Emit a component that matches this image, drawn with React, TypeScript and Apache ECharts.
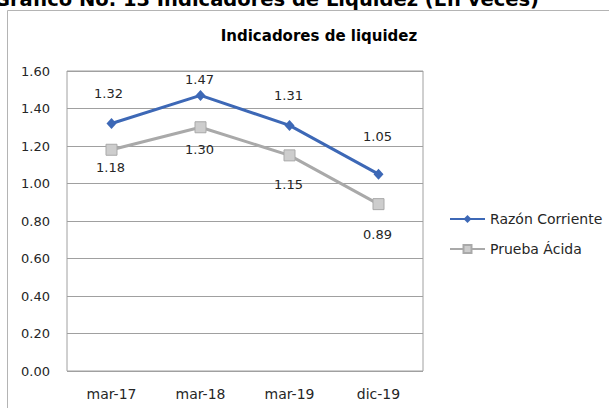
import React, { useEffect, useRef } from "react";
import * as echarts from "echarts";

const categories = ["mar-17", "mar-18", "mar-19", "dic-19"];
const razonCorriente = [1.32, 1.47, 1.31, 1.05];
const pruebaAcida = [1.18, 1.3, 1.15, 0.89];
const yTicks = { min: 0, max: 1.6, interval: 0.2 };

const razonLabelOffsets = [[-3, -30], [-1, -16], [-1, -30], [-1, -38]];
const pruebaLabelOffsets = [[-1, 18], [-1, 22], [-1, 29], [-1, 30]];

const BLUE = "#3d68b6";
const GRAY = "#a9a9a9";
const TEXT = "#262626";
const FONT = "DejaVu Sans";

function buildData(values: number[], offsets: number[][]) {
  return values.map((v, i) => ({
    value: v,
    label: { position: "inside", offset: offsets[i] },
  }));
}

export default function App() {
  const ref = useRef<HTMLDivElement>(null);
  useEffect(() => {
    document.body.style.margin = "0";
    if (!ref.current) return;
    const chart = echarts.init(ref.current, undefined, { renderer: "svg" });
    chart.setOption({
      animation: false,
      backgroundColor: "#ffffff",
      graphic: [
        {
          type: "rect",
          shape: { x: 7.5, y: 10.5, width: 800, height: 600 },
          style: { fill: "none", stroke: "#b4b4b4", lineWidth: 1 },
          silent: true,
        },
        {
          type: "text",
          x: -6,
          y: 9,
          style: {
            text: "Gráfico No. 13 Indicadores de Liquidez (En veces)",
            font: "bold 19.5px 'DejaVu Sans'",
            fill: "#000000",
            textVerticalAlign: "bottom",
          },
        },
      ],
      title: {
        text: "Indicadores de liquidez",
        left: 314,
        top: 23,
        textAlign: "center",
        textStyle: { fontFamily: FONT, fontWeight: "bold", fontSize: 15, color: "#000" },
      },
      legend: {
        orient: "vertical",
        left: 444,
        top: 207,
        itemWidth: 35,
        itemHeight: 10,
        itemGap: 16,
        textStyle: { fontFamily: FONT, fontSize: 14, color: TEXT, lineHeight: 14 },
        data: ["Razón Corriente", "Prueba Ácida"],
      },
      grid: {
        left: 67,
        right: 186,
        top: 71,
        bottom: 37,
        show: true,
        borderColor: "#a0a0a0",
        borderWidth: 1,
        containLabel: false,
      },
      xAxis: {
        type: "category",
        data: categories,
        boundaryGap: true,
        axisLine: { show: false },
        axisTick: { show: false },
        axisLabel: { fontFamily: FONT, fontSize: 14, color: TEXT, margin: 16 },
      },
      yAxis: {
        type: "value",
        min: yTicks.min,
        max: yTicks.max,
        interval: yTicks.interval,
        axisLine: { show: false },
        axisTick: { show: false },
        splitLine: { lineStyle: { color: "#a0a0a0", width: 1 } },
        axisLabel: {
          fontFamily: FONT,
          fontSize: 13,
          color: TEXT,
          margin: 17,
          formatter: (v: number) => v.toFixed(2),
        },
      },
      series: [
        {
          name: "Razón Corriente",
          type: "line",
          data: buildData(razonCorriente, razonLabelOffsets),
          symbol: "diamond",
          symbolSize: [10, 11],
          lineStyle: { color: BLUE, width: 3 },
          itemStyle: { color: BLUE },
          label: {
            show: true,
            fontFamily: FONT,
            fontSize: 13,
            color: TEXT,
            formatter: (p: any) => Number(p.value).toFixed(2),
          },
          z: 3,
        },
        {
          name: "Prueba Ácida",
          type: "line",
          data: buildData(pruebaAcida, pruebaLabelOffsets),
          symbol: "rect",
          symbolSize: 11,
          lineStyle: { color: GRAY, width: 3 },
          itemStyle: { color: "#cdcdcd", borderColor: GRAY, borderWidth: 1 },
          label: {
            show: true,
            fontFamily: FONT,
            fontSize: 13,
            color: TEXT,
            formatter: (p: any) => Number(p.value).toFixed(2),
          },
          z: 2,
        },
      ],
    });
    return () => chart.dispose();
  }, []);
  return <div ref={ref} style={{ width: 609, height: 408 }} />;
}
